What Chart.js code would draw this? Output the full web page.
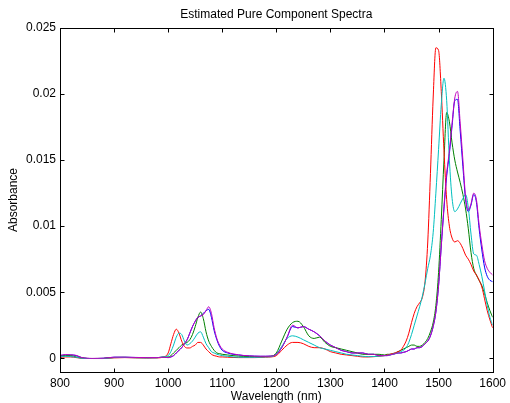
<!DOCTYPE html>
<html>
<head>
<meta charset="utf-8">
<script src="https://cdn.jsdelivr.net/npm/chart.js@4.4.1/dist/chart.umd.min.js"></script>
<style>
  html, body { margin: 0; padding: 0; background: #fff; }
</style>
</head>
<body>
<canvas id="chart" width="510" height="403"></canvas>
<script>
// wavelength grid (nm), denser where the bands are
const wavelengths = [
  800, 810, 820, 830, 840, 860, 880, 900, 920, 940, 960, 980, 990,
  1000, 1005, 1010, 1015, 1020, 1025, 1030, 1035, 1040, 1045, 1050, 1055, 1060, 1065, 1070, 1075, 1080, 1085, 1090, 1095, 1100,
  1110, 1120, 1130, 1140, 1150, 1160, 1170, 1180, 1190,
  1200, 1210, 1220, 1230, 1240, 1250, 1260, 1270, 1280, 1290, 1300, 1310, 1320, 1330, 1340, 1350, 1360, 1370, 1380, 1390,
  1400, 1405, 1410, 1415, 1420, 1425, 1430, 1435, 1440, 1445,
  1450, 1455, 1460, 1465, 1470, 1475, 1480, 1485, 1490, 1495,
  1500, 1505, 1510, 1515, 1520, 1525, 1530, 1535, 1540, 1545,
  1550, 1555, 1560, 1565, 1570, 1575, 1580, 1585, 1590, 1595,
  1600
];

const redSpectrum = [
  0.00005, 0.0001, 0.0001, 0.00005, 0, -0.00002, -0.00002, 0.00003, 0.00005, 0.00003, 0.00002, 0.00003, 0.00008,
  0.0004, 0.0011, 0.0018, 0.0022, 0.0019, 0.0013, 0.0009, 0.00078, 0.00078, 0.0009, 0.001, 0.0012, 0.0012, 0.001, 0.0007, 0.0005, 0.0003, 0.0002, 0.00015, 0.0001, 0.0001,
  0.00008, 0.00006, 0.00005, 0.00005, 0.00005, 0.00005, 0.00006, 0.00008, 0.0001,
  0.0002, 0.0006, 0.001, 0.0012, 0.0012, 0.0011, 0.0009, 0.0008, 0.0008, 0.0007, 0.0005, 0.0004, 0.0003, 0.00025, 0.0002, 0.00015, 0.0001, 0.0001, 0.00012, 0.00015,
  0.0002, 0.00025, 0.0003, 0.00035, 0.0004, 0.0005, 0.0006, 0.0009, 0.0013, 0.0019,
  0.0027, 0.0034, 0.0039, 0.0042, 0.0046, 0.0058, 0.0088, 0.014, 0.0197, 0.0235,
  0.0233, 0.0202, 0.0157, 0.012, 0.01, 0.0091, 0.0088, 0.0089, 0.0087, 0.0083,
  0.0078, 0.0075, 0.0071, 0.0066, 0.0063, 0.0059, 0.0054, 0.0045, 0.0036, 0.0029,
  0.0023
];

const cyanSpectrum = [
  0.0001, 0.00015, 0.00012, 0.00008, 0, -0.00002, -0.00002, 0.00005, 0.00006, 0.00004, 0.00003, 0.00004, 0.0001,
  0.0002, 0.0005, 0.001, 0.0016, 0.0019, 0.0018, 0.0013, 0.001, 0.0011, 0.0013, 0.0016, 0.0019, 0.002, 0.0016, 0.0011, 0.0008, 0.0005, 0.0004, 0.0003, 0.00025, 0.0002,
  0.00015, 0.0001, 0.00008, 0.00007, 0.00007, 0.00007, 0.00008, 0.0001, 0.00012,
  0.0003, 0.0009, 0.0015, 0.0017, 0.0016, 0.0014, 0.0012, 0.001, 0.0008, 0.0007, 0.0006, 0.0005, 0.0004, 0.0003, 0.00025, 0.0002, 0.00015, 0.00012, 0.00013, 0.00016,
  0.0002, 0.00022, 0.00025, 0.0003, 0.00035, 0.0004, 0.0005, 0.0006, 0.0008, 0.0012,
  0.0018, 0.0025, 0.0032, 0.0039, 0.0047, 0.0057, 0.0068, 0.0078, 0.0095, 0.0125,
  0.0158, 0.0192, 0.0212, 0.0195, 0.015, 0.0121, 0.0111, 0.0113, 0.0117, 0.0121,
  0.0124, 0.0114, 0.0094, 0.0079, 0.0078, 0.0071, 0.0062, 0.0051, 0.004, 0.0031,
  0.0025
];

const greenSpectrum = [
  0.00015, 0.0002, 0.0002, 0.0001, 0.00002, -0.00002, -0.00001, 0.00006, 0.00007, 0.00005, 0.00004, 0.00005, 0.00008,
  0.0001, 0.0002, 0.0004, 0.0006, 0.0008, 0.001, 0.0011, 0.0012, 0.0014, 0.0018, 0.0024, 0.0031, 0.0035, 0.003, 0.002, 0.0013, 0.0009, 0.0006, 0.0004, 0.00035, 0.0003,
  0.00025, 0.0002, 0.00016, 0.00014, 0.00013, 0.00012, 0.00012, 0.00013, 0.00015,
  0.0004, 0.0013, 0.0022, 0.0027, 0.0028, 0.0024, 0.0017, 0.0015, 0.0016, 0.0012, 0.0009, 0.0008, 0.0007, 0.0006, 0.0005, 0.0004, 0.0003, 0.0003, 0.0003, 0.0003,
  0.00025, 0.0003, 0.0003, 0.00035, 0.0004, 0.0005, 0.0006, 0.0007, 0.0008, 0.0009,
  0.001, 0.001, 0.0009, 0.0009, 0.001, 0.0012, 0.0015, 0.002, 0.0027, 0.004,
  0.0065, 0.0105, 0.015, 0.0186, 0.0179, 0.0163, 0.015, 0.0141, 0.0133, 0.0124,
  0.0113, 0.0098, 0.008, 0.0068, 0.0063, 0.0059, 0.0055, 0.0049, 0.0042, 0.0036,
  0.0031
];

const blueSpectrum = [
  0.0002, 0.00025, 0.00025, 0.0002, 0.00005, -0.00002, 0, 0.00008, 0.00008, 0.00006, 0.00005, 0.00005, 0.00008,
  0.00005, 0.0001, 0.0002, 0.0004, 0.0006, 0.0008, 0.0011, 0.0014, 0.0019, 0.0024, 0.0028, 0.0031, 0.0032, 0.0034, 0.0036, 0.0037, 0.0031, 0.0021, 0.0014, 0.0009, 0.0006,
  0.0004, 0.0003, 0.00025, 0.0002, 0.00018, 0.00016, 0.00015, 0.00015, 0.00016,
  0.0003, 0.0008, 0.0016, 0.0024, 0.0023, 0.0024, 0.0022, 0.002, 0.0017, 0.0013, 0.001, 0.0008, 0.0006, 0.0005, 0.0004, 0.0004, 0.0004, 0.0003, 0.0003, 0.0002,
  0.0002, 0.0002, 0.00025, 0.0003, 0.00035, 0.0004, 0.0004, 0.00045, 0.0005, 0.0006,
  0.0007, 0.0007, 0.0008, 0.0008, 0.0009, 0.0011, 0.0013, 0.0017, 0.0024, 0.0035,
  0.0055, 0.0085, 0.0113, 0.0138, 0.0155, 0.0176, 0.0195, 0.0196, 0.0172, 0.0145,
  0.012, 0.0111, 0.0116, 0.0124, 0.0118, 0.0098, 0.0082, 0.0069, 0.0062, 0.0059,
  0.0058
];

const magentaSpectrum = [
  0.00022, 0.00028, 0.00026, 0.00022, 0.00006, -0.00001, 0, 0.00008, 0.00008, 0.00006, 0.00005, 0.00005, 0.00008,
  0.00005, 0.0001, 0.0002, 0.0004, 0.0006, 0.0008, 0.0011, 0.0014, 0.0019, 0.0024, 0.0028, 0.0031, 0.0032, 0.0033, 0.0036, 0.0039, 0.0034, 0.0023, 0.0015, 0.001, 0.0007,
  0.00045, 0.00033, 0.00026, 0.00021, 0.00018, 0.00016, 0.00015, 0.00015, 0.00016,
  0.0003, 0.0008, 0.0016, 0.0025, 0.0023, 0.0024, 0.0022, 0.002, 0.0017, 0.0013, 0.001, 0.0008, 0.0006, 0.0005, 0.0004, 0.0004, 0.0004, 0.0003, 0.0003, 0.0002,
  0.0002, 0.0002, 0.00025, 0.0003, 0.00035, 0.0004, 0.0004, 0.00045, 0.0005, 0.0006,
  0.0007, 0.0007, 0.0008, 0.0008, 0.0009, 0.0011, 0.0013, 0.0017, 0.0024, 0.0035,
  0.0055, 0.0085, 0.0115, 0.014, 0.0157, 0.0178, 0.0197, 0.0202, 0.0178, 0.015,
  0.0122, 0.0112, 0.0117, 0.0125, 0.012, 0.0101, 0.0086, 0.0074, 0.0068, 0.0065,
  0.0063
];

const xTicks = [800, 900, 1000, 1100, 1200, 1300, 1400, 1500, 1600];
const yTicks = [0, 0.005, 0.01, 0.015, 0.02, 0.025];

const chartTitle = 'Estimated Pure Component Spectra';
const xTitle = 'Wavelength (nm)';
const yTitle = 'Absorbance';

const FONT = '"Liberation Sans", Arial, Helvetica, sans-serif';

function toPoints(values) {
    return values.map((v, i) => ({ x: wavelengths[i], y: v }));
}

function makeSeries(values, color) {
    return {
        data: toPoints(values),
        borderColor: color,
        borderWidth: 1,
        pointRadius: 0,
        fill: false,
        cubicInterpolationMode: 'monotone'
    };
}

// box round the axes, ticks pointing inwards, titles
const matlabFrame = {
    id: 'matlabFrame',
    afterDraw(chart) {
        const ctx = chart.ctx;
        const a = chart.chartArea;
        const x = chart.scales.x;
        const y = chart.scales.y;
        const L = Math.round(a.left) + 0.5;
        const R = Math.round(a.right) + 0.5;
        const T = Math.round(a.top) + 0.5;
        const B = Math.round(a.bottom) + 0.5;
        const len = 4;

        ctx.save();
        ctx.strokeStyle = '#000';
        ctx.lineWidth = 1;
        ctx.strokeRect(L, T, R - L, B - T);
        ctx.beginPath();
        xTicks.forEach(v => {
            const p = Math.round(x.getPixelForValue(v)) + 0.5;
            ctx.moveTo(p, B); ctx.lineTo(p, B - len);
            ctx.moveTo(p, T); ctx.lineTo(p, T + len);
        });
        yTicks.forEach(v => {
            const p = Math.round(y.getPixelForValue(v)) + 0.5;
            ctx.moveTo(L, p); ctx.lineTo(L + len, p);
            ctx.moveTo(R, p); ctx.lineTo(R - len, p);
        });
        ctx.stroke();

        ctx.fillStyle = '#000';
        ctx.font = '12px ' + FONT;
        ctx.textAlign = 'center';
        ctx.textBaseline = 'middle';
        const cx = (a.left + a.right) / 2;
        ctx.fillText(chartTitle, cx, 15);
        ctx.fillText(xTitle, cx, 397);
        ctx.translate(14, (a.top + a.bottom) / 2);
        ctx.rotate(-Math.PI / 2);
        ctx.fillText(yTitle, 0, 0);
        ctx.restore();
    }
};

Chart.defaults.font.family = FONT;
Chart.defaults.font.size = 12;
Chart.defaults.color = '#000';

new Chart(document.getElementById('chart'), {
    type: 'line',
    data: {
        datasets: [
            makeSeries(magentaSpectrum, '#bf00bf'),
            makeSeries(cyanSpectrum, '#00bfbf'),
            makeSeries(redSpectrum, '#ff0000'),
            makeSeries(greenSpectrum, '#008000'),
            makeSeries(blueSpectrum, '#0000ff')
        ]
    },
    options: {
        responsive: false,
        animation: false,
        events: [],
        layout: { padding: { left: 0, right: 15, top: 28, bottom: 0 } },
        plugins: {
            legend: { display: false },
            tooltip: { enabled: false },
            title: { display: false }
        },
        scales: {
            x: {
                type: 'linear',
                min: 800,
                max: 1600,
                afterFit(scale) { scale.height = 31; },
                afterBuildTicks(scale) { scale.ticks = xTicks.map(v => ({ value: v })); },
                grid: { drawOnChartArea: false, drawTicks: false },
                border: { display: false },
                ticks: { padding: 4, maxRotation: 0, autoSkip: false, callback: v => String(v) }
            },
            y: {
                type: 'linear',
                min: -0.00104,
                max: 0.025,
                afterFit(scale) { scale.width = 60; },
                afterBuildTicks(scale) { scale.ticks = yTicks.map(v => ({ value: v })); },
                grid: { drawOnChartArea: false, drawTicks: false },
                border: { display: false },
                ticks: {
                    padding: 4,
                    autoSkip: false,
                    callback: v => String(parseFloat(v.toFixed(3)))
                }
            }
        }
    },
    plugins: [matlabFrame]
});
</script>
</body>
</html>
